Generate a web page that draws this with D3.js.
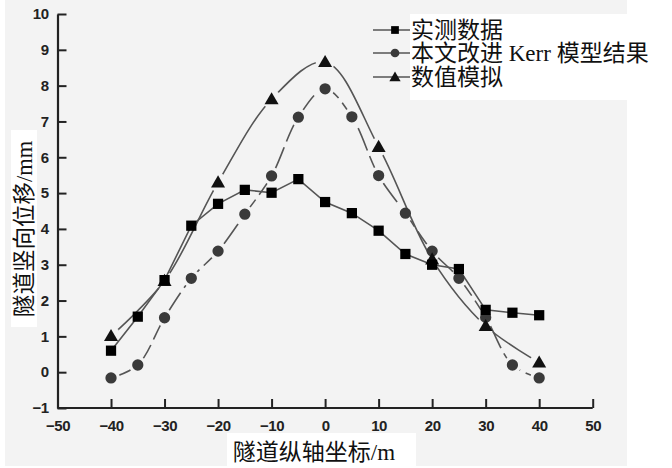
<!DOCTYPE html>
<html><head><meta charset="utf-8">
<script src="https://cdn.jsdelivr.net/npm/d3@7"></script>
<style>body{margin:0;background:#fff}svg{display:block}</style>
</head><body>
<script>
const xTicks = [-50,-40,-30,-20,-10,0,10,20,30,40,50];
const yTicks = [-1,0,1,2,3,4,5,6,7,8,9,10];
const xMeasured = [-40,-35,-30,-25,-20,-15,-10,-5,0,5,10,15,20,25,30,35,40];
const measured = [0.6,1.55,2.57,4.09,4.70,5.09,5.01,5.39,4.75,4.44,3.95,3.30,3.0,2.88,1.74,1.66,1.59];
const xKerr = [-40,-35,-30,-25,-20,-15,-10,-5,0,5,10,15,20,25,30,35,40];
const kerr = [-0.16,0.20,1.52,2.62,3.38,4.41,5.48,7.12,7.91,7.13,5.49,4.44,3.38,2.62,1.53,0.20,-0.16];
const xNum = [-40,-30,-20,-10,0,10,20,30,40];
const numeric = [1.01,2.55,5.30,7.62,8.66,6.29,3.15,1.29,0.27];
const legendLabels = ["实测数据","本文改进 Kerr 模型结果","数值模拟"];
const xTitle = "隧道纵轴坐标/m";
const yTitle = "隧道竖向位移/mm";

const W=672,H=468,BG="#f3f3f3";
const svg=d3.select("body").append("svg").attr("width",W).attr("height",H);
svg.append("rect").attr("x",5).attr("y",0).attr("width",622).attr("height",466).attr("fill",BG);

const x=d3.scaleLinear().domain([-50,50]).range([57.5,592.7]);
const y=d3.scaleLinear().domain([-1,10]).range([408,14]);

const defs=svg.append("defs");
function makeMask(id,xs,vs,r){
  const m=defs.append("mask").attr("id",id).attr("maskUnits","userSpaceOnUse")
    .attr("x",0).attr("y",0).attr("width",W).attr("height",H);
  m.append("rect").attr("width",W).attr("height",H).attr("fill","#fff");
  xs.forEach((xv,i)=>m.append("circle").attr("cx",x(xv)).attr("cy",y(vs[i])).attr("r",r).attr("fill","#000"));
}
makeMask("mk",xKerr,kerr,9);
makeMask("mn",xNum,numeric,9.5);

const axisColor="#222";
const ax=svg.append("g").attr("transform",`translate(0,${y(-1)})`)
  .call(d3.axisBottom(x).tickValues(xTicks).tickSize(-9).tickSizeOuter(0).tickFormat(d3.format("d")));
const ay=svg.append("g").attr("transform",`translate(${x(-50)},0)`)
  .call(d3.axisLeft(y).tickValues(yTicks).tickSize(-9).tickSizeOuter(0).tickFormat(d3.format("d")));
[ax,ay].forEach(g=>{
  g.select(".domain").attr("stroke",axisColor).attr("stroke-width",2.2);
  g.selectAll(".tick line").attr("stroke",axisColor).attr("stroke-width",2);
  g.selectAll(".tick text").attr("fill","#222").attr("font-family","Liberation Sans, Arial, sans-serif")
    .attr("font-weight","bold").attr("font-size",15).style("letter-spacing","-0.5px");
});
ax.selectAll(".tick text").attr("y",12);
ay.selectAll(".tick text").attr("x",-9);
ax.select(".domain").attr("d",`M${x(-50)},0H${x(50)}`);

const lineColor="#555";
svg.append("path").datum(measured).attr("fill","none").attr("stroke",lineColor).attr("stroke-width",1.6)
  .attr("d",d3.line().x((d,i)=>x(xMeasured[i])).y(d=>y(d)));
svg.append("path").datum(kerr).attr("fill","none").attr("stroke",lineColor).attr("stroke-width",1.6)
  .attr("stroke-dasharray","24,6").attr("mask","url(#mk)")
  .attr("d",d3.line().curve(d3.curveCatmullRom.alpha(0.5)).x((d,i)=>x(xKerr[i])).y(d=>y(d)));
svg.append("path").datum(numeric).attr("fill","none").attr("stroke",lineColor).attr("stroke-width",1.6)
  .attr("mask","url(#mn)")
  .attr("d",d3.line().curve(d3.curveCatmullRom.alpha(0.5)).x((d,i)=>x(xNum[i])).y(d=>y(d)));

const sq=d3.symbol().type(d3.symbolSquare).size(105);
const ci=d3.symbol().type(d3.symbolCircle).size(100);
const tr=d3.symbol().type(d3.symbolTriangle).size(85);
svg.append("g").selectAll("path").data(kerr).join("path")
  .attr("d",ci).attr("fill","#3a3a3a").attr("transform",(d,i)=>`translate(${x(xKerr[i])},${y(d)})`);
svg.append("g").selectAll("path").data(numeric).join("path")
  .attr("d",tr).attr("fill","#111").attr("transform",(d,i)=>`translate(${x(xNum[i])},${y(d)+1})`);
svg.append("g").selectAll("path").data(measured).join("path")
  .attr("d",sq).attr("fill","#000").attr("transform",(d,i)=>`translate(${x(xMeasured[i])},${y(d)})`);

svg.append("rect").attr("x",410).attr("y",14).attr("width",217).attr("height",86).attr("fill","#fff");
const rows=[30,53,77];
const syms=[[d3.symbol().type(d3.symbolSquare).size(60),"#000",0],[d3.symbol().type(d3.symbolCircle).size(60),"#3a3a3a",0],[d3.symbol().type(d3.symbolTriangle).size(55),"#111",1]];
const serif="Liberation Serif, 'Times New Roman', 'Noto Sans CJK SC', serif";
rows.forEach((ry,i)=>{
  svg.append("line").attr("x1",373).attr("x2",410).attr("y1",ry).attr("y2",ry).attr("stroke",lineColor).attr("stroke-width",1.6);
  svg.append("path").attr("d",syms[i][0]()).attr("fill",syms[i][1]).attr("transform",`translate(395,${ry+syms[i][2]})`);
  svg.append("text").attr("x",411).attr("y",ry+8).attr("font-family",serif).attr("font-size",23).attr("fill","#111")
    .text(legendLabels[i]);
});

svg.append("rect").attr("x",227).attr("y",433).attr("width",189).attr("height",33).attr("fill","#fff");
svg.append("text").attr("x",314).attr("y",460).attr("text-anchor","middle").attr("font-family",serif)
  .attr("font-size",23).attr("fill","#111").text(xTitle);
svg.append("rect").attr("x",11).attr("y",130).attr("width",26).attr("height",197).attr("fill","#fff");
svg.append("text").attr("transform","translate(32,229) rotate(-90)").attr("text-anchor","middle").attr("font-family",serif)
  .attr("font-size",22.5).attr("fill","#111").text(yTitle);
</script>
</body></html>
